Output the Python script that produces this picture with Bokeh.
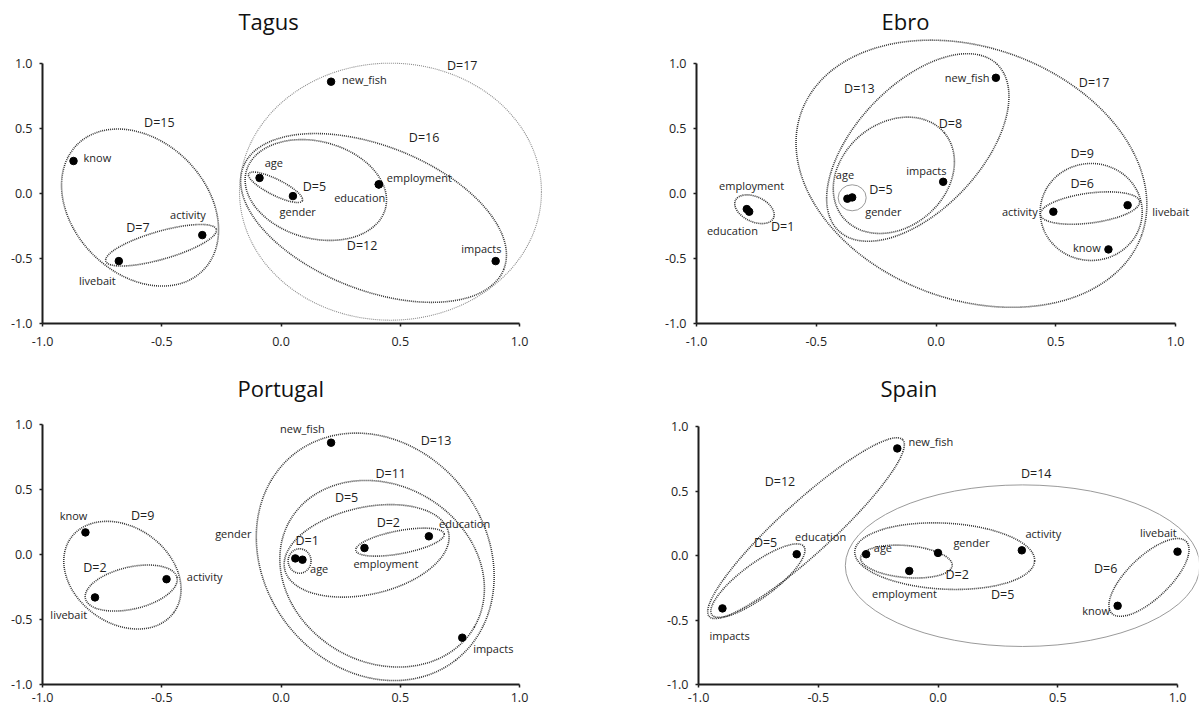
from bokeh.plotting import figure
from bokeh.layouts import column, row
from bokeh.models import FixedTicker, NumeralTickFormatter, ColumnDataSource
from bokeh.core.properties import value
from bokeh.embed import file_html
from bokeh.resources import INLINE

# ---------------- data ----------------
TICKS = [-1.0, -0.5, 0.0, 0.5, 1.0]
TICK_LABELS = ["-1.0", "-0.5", "0.0", "0.5", "1.0"]

# Tagus
TAGUS_VARS = ["know", "livebait", "activity", "age", "gender", "employment", "education", "new_fish", "impacts"]
TAGUS_X = [-0.87, -0.68, -0.33, -0.09, 0.05, 0.41, 0.41, 0.21, 0.90]
TAGUS_Y = [0.25, -0.52, -0.32, 0.12, -0.02, 0.07, 0.07, 0.86, -0.52]
TAGUS_LAB_X = [-0.77, -0.77, -0.39, -0.03, 0.07, 0.58, 0.33, 0.35, 0.84]
TAGUS_LAB_Y = [0.28, -0.67, -0.16, 0.24, -0.14, 0.12, -0.03, 0.88, -0.42]
TAGUS_D = ["D=17", "D=16", "D=15", "D=12", "D=7", "D=5"]
TAGUS_D_X = [0.76, 0.60, -0.51, 0.34, -0.60, 0.14]
TAGUS_D_Y = [0.985, 0.43, 0.545, -0.40, -0.26, 0.055]
TAGUS_E_X = [0.459, 0.388, -0.591, 0.146, -0.503, -0.023]
TAGUS_E_Y = [0.014, -0.188, -0.108, 0.027, -0.398, 0.048]
TAGUS_E_W = [1.266, 1.174, 0.746, 0.604, 0.482, 0.252]
TAGUS_E_H = [1.977, 1.108, 1.023, 0.746, 0.215, 0.123]
TAGUS_E_A = [0, -21.5, -45, -15, 16, -26.6]
TAGUS_E_KIND = ["fine", "dot", "dot", "dot", "dot", "dot"]

# Ebro
EBRO_VARS = ["employment", "education", "age", "gender", "impacts", "new_fish", "activity", "livebait", "know"]
EBRO_X = [-0.79, -0.78, -0.37, -0.35, 0.03, 0.25, 0.49, 0.80, 0.72]
EBRO_Y = [-0.12, -0.14, -0.04, -0.03, 0.09, 0.89, -0.14, -0.09, -0.43]
EBRO_LAB_X = [-0.77, -0.85, -0.38, -0.22, -0.04, 0.13, 0.35, 0.98, 0.63]
EBRO_LAB_Y = [0.06, -0.285, 0.145, -0.14, 0.18, 0.895, -0.135, -0.135, -0.415]
EBRO_D = ["D=17", "D=13", "D=9", "D=8", "D=6", "D=5", "D=1"]
EBRO_D_X = [0.66, -0.32, 0.61, 0.06, 0.61, -0.23, -0.64]
EBRO_D_Y = [0.855, 0.81, 0.31, 0.54, 0.075, 0.03, -0.255]
EBRO_E_X = [0.148, -0.076, 0.648, -0.176, 0.643, -0.35, -0.758]
EBRO_E_Y = [0.152, 0.354, -0.142, 0.14, -0.112, -0.033, -0.121]
EBRO_E_W = [1.511, 0.96, 0.426, 0.551, 0.418, 0.117, 0.175]
EBRO_E_H = [1.938, 0.96, 0.746, 0.80, 0.23, 0.20, 0.192]
EBRO_E_A = [-20, 46.5, 0, 40, 7.5, 0, -25]
EBRO_E_KIND = ["dot", "dot", "dot", "dot", "dot", "solid", "dot"]

# Portugal
PORT_VARS = ["know", "livebait", "activity", "new_fish", "gender", "age", "employment", "education", "impacts"]
PORT_X = [-0.82, -0.78, -0.48, 0.21, 0.06, 0.09, 0.35, 0.62, 0.76]
PORT_Y = [0.17, -0.33, -0.19, 0.86, -0.03, -0.04, 0.05, 0.14, -0.64]
PORT_LAB_X = [-0.87, -0.89, -0.32, 0.09, -0.20, 0.16, 0.44, 0.77, 0.89]
PORT_LAB_Y = [0.30, -0.46, -0.17, 0.97, 0.16, -0.11, -0.07, 0.235, -0.72]
PORT_D = ["D=13", "D=11", "D=5", "D=2", "D=1", "D=9", "D=2"]
PORT_D_X = [0.65, 0.46, 0.275, 0.45, 0.11, -0.58, -0.78]
PORT_D_Y = [0.88, 0.62, 0.44, 0.245, 0.11, 0.30, -0.10]
PORT_E_X = [0.395, 0.424, 0.359, 0.499, 0.078, -0.665, -0.628]
PORT_E_Y = [-0.018, -0.148, 0.028, 0.095, -0.05, -0.159, -0.258]
PORT_E_W = [1.098, 0.893, 0.704, 0.377, 0.096, 0.533, 0.394]
PORT_E_H = [1.708, 1.362, 0.669, 0.177, 0.188, 0.738, 0.323]
PORT_E_A = [-52, -30, 12.7, 10.6, 0, -36, 13]
PORT_E_KIND = ["dot", "dot", "dot", "dot", "dot", "dot", "dot"]

# Spain
SPAIN_VARS = ["impacts", "education", "new_fish", "age", "employment", "gender", "activity", "livebait", "know"]
SPAIN_X = [-0.90, -0.59, -0.17, -0.30, -0.12, 0.00, 0.35, 1.00, 0.75]
SPAIN_Y = [-0.41, 0.01, 0.83, 0.01, -0.12, 0.02, 0.04, 0.03, -0.39]
SPAIN_LAB_X = [-0.87, -0.49, -0.03, -0.23, -0.14, 0.14, 0.44, 0.92, 0.66]
SPAIN_LAB_Y = [-0.62, 0.15, 0.88, 0.06, -0.295, 0.10, 0.17, 0.175, -0.425]
SPAIN_D = ["D=14", "D=12", "D=5", "D=6", "D=5", "D=2"]
SPAIN_D_X = [0.41, -0.66, -0.72, 0.70, 0.27, 0.08]
SPAIN_D_Y = [0.635, 0.57, 0.10, -0.10, -0.305, -0.145]
SPAIN_E_X = [0.353, -0.551, -0.752, 0.028, -0.132, 0.881]
SPAIN_E_Y = [-0.079, 0.212, -0.195, -0.005, -0.047, -0.17]
SPAIN_E_W = [1.48, 1.094, 0.478, 0.752, 0.384, 0.432]
SPAIN_E_H = [1.253, 0.403, 0.264, 0.512, 0.248, 0.326]
SPAIN_E_A = [0, 42.4, 36.6, -3, -5, 43.8]
SPAIN_E_KIND = ["solid", "dot", "dot", "dot", "dot", "dot"]

# ---------------- styling ----------------
FONT = value("Open Sans")
INK = "#1e1e1e"
KIND_STYLE = {
    "dot": dict(line_color="#333333", line_width=1.6, line_dash="1 1"),
    "fine": dict(line_color="#8a8a8a", line_width=1.1, line_dash="1 1"),
    "solid": dict(line_color="#9a9a9a", line_width=1.0, line_dash="solid"),
}


def panel(name, vars_, xs, ys, lx, ly, dt, dx, dy, ex, ey, ew, eh, ea, ekind,
          width, height, bl, br, bt, bb, sx, sy, title_offset, title_standoff, x_standoff):
    frame_w = width - bl - br
    frame_h = height - bt - bb
    x_end = -1.0 + frame_w / sx
    y_end = -1.0 + frame_h / sy
    p = figure(width=width, height=height, x_range=(-1.0, x_end), y_range=(-1.0, y_end),
               output_backend="svg", toolbar_location=None, title=name,
               min_border_left=bl, min_border_right=br, min_border_top=bt, min_border_bottom=bb)
    p.title.align = "left"
    p.title.offset = title_offset
    p.title.standoff = title_standoff
    p.title.text_font = "Open Sans"
    p.title.text_font_size = "22px"
    p.title.text_font_style = "normal"
    p.title.text_color = "#111111"
    p.outline_line_color = None
    p.xgrid.visible = False
    p.ygrid.visible = False
    p.background_fill_color = "white"
    p.border_fill_color = "white"

    overrides = dict(zip(TICKS, TICK_LABELS))
    for ax in (p.xaxis[0], p.yaxis[0]):
        ax.bounds = (-1.0, 1.0)
        ax.ticker = FixedTicker(ticks=TICKS)
        ax.formatter = NumeralTickFormatter(format="0.0")
        ax.major_label_overrides = overrides
        ax.axis_line_color = INK
        ax.axis_line_width = 2
        ax.major_tick_line_color = INK
        ax.major_tick_line_width = 1.5
        ax.major_tick_in = 0
        ax.major_tick_out = 3
        ax.minor_tick_in = 0
        ax.minor_tick_out = 0
        ax.major_label_text_font = "Open Sans"
        ax.major_label_text_font_size = "12.5px"
        ax.major_label_text_color = INK
    p.xaxis[0].major_label_standoff = x_standoff
    p.yaxis[0].major_label_standoff = 7

    for kind, style in KIND_STYLE.items():
        idx = [i for i, k in enumerate(ekind) if k == kind]
        if not idx:
            continue
        src = ColumnDataSource(dict(
            x=[ex[i] for i in idx], y=[ey[i] for i in idx],
            w=[ew[i] for i in idx], h=[eh[i] for i in idx], a=[ea[i] for i in idx]))
        p.ellipse(x="x", y="y", width="w", height="h", angle="a", angle_units="deg",
                  source=src, fill_color=None, **style)

    p.scatter(x=xs, y=ys, size=7.5, color="black")
    p.text(x=lx, y=ly, text=vars_, text_font=FONT, text_font_size="11px",
           text_align="center", text_baseline="middle", text_color=INK)
    p.text(x=dx, y=dy, text=dt, text_font=FONT, text_font_size="12.5px",
           text_align="center", text_baseline="middle", text_color=INK)
    return p


H1, H2 = 353, 356
p1 = panel("Tagus", TAGUS_VARS, TAGUS_X, TAGUS_Y, TAGUS_LAB_X, TAGUS_LAB_Y,
           TAGUS_D, TAGUS_D_X, TAGUS_D_Y, TAGUS_E_X, TAGUS_E_Y, TAGUS_E_W, TAGUS_E_H, TAGUS_E_A, TAGUS_E_KIND,
           600, H1, 42, 4, 38, 30, 238.5, 130, 196, 5, 10)
p2 = panel("Ebro", EBRO_VARS, EBRO_X, EBRO_Y, EBRO_LAB_X, EBRO_LAB_Y,
           EBRO_D, EBRO_D_X, EBRO_D_Y, EBRO_E_X, EBRO_E_Y, EBRO_E_W, EBRO_E_H, EBRO_E_A, EBRO_E_KIND,
           600, H1, 96, 3, 38, 30, 239.5, 130, 185, 5, 10)
p3 = panel("Portugal", PORT_VARS, PORT_X, PORT_Y, PORT_LAB_X, PORT_LAB_Y,
           PORT_D, PORT_D_X, PORT_D_Y, PORT_E_X, PORT_E_Y, PORT_E_W, PORT_E_H, PORT_E_A, PORT_E_KIND,
           600, H2, 42, 4, 62, 25, 238.5, 130, 195, 26, 5)
p4 = panel("Spain", SPAIN_VARS, SPAIN_X, SPAIN_Y, SPAIN_LAB_X, SPAIN_LAB_Y,
           SPAIN_D, SPAIN_D_X, SPAIN_D_Y, SPAIN_E_X, SPAIN_E_Y, SPAIN_E_W, SPAIN_E_H, SPAIN_E_A, SPAIN_E_KIND,
           600, H2, 98, 2, 62, 25, 239.5, 129, 182, 26, 5)

layout = column(row(p1, p2), row(p3, p4))
open("out.html", "w").write(file_html(layout, INLINE))
